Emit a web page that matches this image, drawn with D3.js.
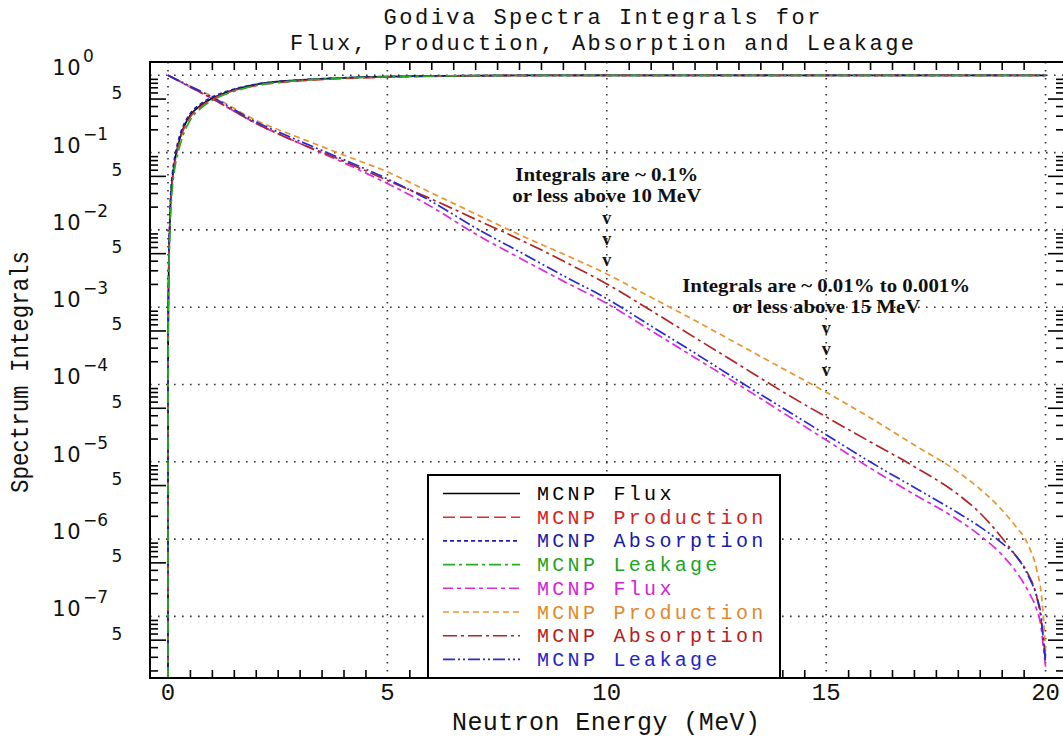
<!DOCTYPE html>
<html><head><meta charset="utf-8">
<script src="https://cdn.jsdelivr.net/npm/d3@7/dist/d3.min.js"></script>
<style>body{margin:0;background:#fff}svg{display:block}</style>
</head><body>
<svg id="chart" width="1063" height="743"></svg>
<script>
// ---------- DATA ----------
const titleLines = ["Godiva Spectra Integrals for", "Flux, Production, Absorption and Leakage"];
const xAxisTitle = "Neutron Energy (MeV)";
const yAxisTitle = "Spectrum Integrals";
const xTickLabels = [0, 5, 10, 15, 20];
const yDecades = [0, -1, -2, -3, -4, -5, -6, -7];

// Integrals from 0 up to E (rising curves)
const upEnergy = [0.000001, 0.00001, 0.0001, 0.001, 0.005, 0.01, 0.02, 0.04, 0.06, 0.1, 0.15, 0.23, 0.34, 0.5, 0.75, 1, 1.5, 2, 3, 4, 5, 6, 7, 8, 10, 12, 15, 20];
const fluxUp        = [1.3e-9, 4e-8, 1.3e-6, 4e-5, 5e-4, 1.4e-3, 4e-3, 0.0105, 0.023, 0.046, 0.075, 0.125, 0.2, 0.3, 0.41, 0.5, 0.65, 0.76, 0.868, 0.926, 0.96, 0.98, 0.991, 0.9956, 0.999, 0.9998, 1, 1];
const productionUp  = [1.2e-9, 3.6e-8, 1.2e-6, 3.7e-5, 4.6e-4, 1.3e-3, 3.7e-3, 0.0098, 0.0215, 0.043, 0.071, 0.118, 0.19, 0.285, 0.395, 0.485, 0.635, 0.737, 0.845, 0.907, 0.944, 0.97, 0.984, 0.991, 0.997, 0.9993, 1, 1];
const absorptionUp  = [1.6e-9, 5e-8, 1.6e-6, 5e-5, 6.2e-4, 1.7e-3, 4.9e-3, 0.013, 0.027, 0.053, 0.085, 0.14, 0.215, 0.315, 0.43, 0.52, 0.66, 0.765, 0.87, 0.93, 0.962, 0.98, 0.99, 0.995, 0.998, 0.9995, 1, 1];
const leakageUp     = [1.0e-9, 3e-8, 9e-7, 2.9e-5, 3.6e-4, 1e-3, 2.9e-3, 0.0075, 0.016, 0.035, 0.06, 0.1, 0.165, 0.26, 0.375, 0.47, 0.62, 0.735, 0.855, 0.92, 0.955, 0.976, 0.988, 0.994, 0.998, 0.9995, 1, 1];

// Integrals from E up to 20 MeV (falling curves)
const downEnergy = [0, 0.5, 1, 2, 3, 4, 5, 6, 7, 8, 9, 10, 11, 12, 13, 14, 15, 16, 17, 18, 18.5, 19, 19.3, 19.6, 19.8, 19.9, 19.95, 20];
const fluxDown       = [1.0, 0.708, 0.501, 0.240, 0.132, 0.0741, 0.0398, 0.0200, 8.91e-3, 4.37e-3, 2.19e-3, 1.12e-3, 5.01e-4, 2.24e-4, 1.00e-4, 4.37e-5, 1.91e-5, 8.32e-6, 3.80e-6, 1.78e-6, 1.12e-6, 6.31e-7, 3.98e-7, 2.14e-7, 1.20e-7, 7.08e-8, 3.98e-8, 2.24e-8];
const productionDown = [1.0, 0.724, 0.537, 0.263, 0.155, 0.0933, 0.0562, 0.0302, 0.0162, 8.71e-3, 4.90e-3, 2.69e-3, 1.35e-3, 6.76e-4, 3.31e-4, 1.62e-4, 7.94e-5, 3.72e-5, 1.66e-5, 7.41e-6, 4.47e-6, 2.40e-6, 1.51e-6, 8.51e-7, 3.98e-7, 2.00e-7, 1.00e-7, 3.55e-8];
const absorptionDown = [1.0, 0.708, 0.501, 0.240, 0.132, 0.0776, 0.0437, 0.0251, 0.0138, 7.59e-3, 3.98e-3, 2.00e-3, 9.12e-4, 4.07e-4, 1.82e-4, 8.13e-5, 3.80e-5, 1.82e-5, 8.71e-6, 3.80e-6, 2.19e-6, 1.05e-6, 6.31e-7, 3.55e-7, 1.78e-7, 8.91e-8, 5.01e-8, 2.82e-8];
const leakageDown    = [1.0, 0.724, 0.525, 0.251, 0.141, 0.0813, 0.0457, 0.0234, 0.0107, 5.25e-3, 2.57e-3, 1.29e-3, 5.75e-4, 2.57e-4, 1.12e-4, 5.01e-5, 2.24e-5, 1.00e-5, 4.68e-6, 2.19e-6, 1.45e-6, 8.91e-7, 6.31e-7, 3.39e-7, 1.78e-7, 1.00e-7, 5.01e-8, 2.51e-8];

const legendLabels = ["MCNP Flux", "MCNP Production", "MCNP Absorption", "MCNP Leakage",
                      "MCNP Flux", "MCNP Production", "MCNP Absorption", "MCNP Leakage"];
const note1 = ["Integrals are ~ 0.1%", "or less above 10 MeV"];
const note2 = ["Integrals are ~ 0.01% to 0.001%", "or less above 15 MeV"];
const note1Energy = 10, note2Energy = 15;

// ---------- LAYOUT / STYLE ----------
const L = 150, R = 1064, T = 62, B = 678;
const svg = d3.select("#chart");
const x = d3.scaleLinear().domain([-0.41, 20.42]).range([L, R]);
const y = d3.scaleLog().domain([Math.pow(10, -7.797), Math.pow(10, 0.172)]).range([B, T]);

const series = [
  {label: legendLabels[0], E: upEnergy,   v: fluxUp,         color: "#000000", text: "#000000", dash: null},
  {label: legendLabels[1], E: upEnergy,   v: productionUp,   color: "#e02a2a", text: "#d42222", dash: "12,5"},
  {label: legendLabels[2], E: upEnergy,   v: absorptionUp,   color: "#1d1db8", text: "#1a1aa8", dash: "4,3"},
  {label: legendLabels[3], E: upEnergy,   v: leakageUp,      color: "#25ad25", text: "#22a322", dash: "12,4,3,4"},
  {label: legendLabels[4], E: downEnergy, v: fluxDown,       color: "#dd2add", text: "#d622d6", dash: "10,4,4,4"},
  {label: legendLabels[5], E: downEnergy, v: productionDown, color: "#e8952c", text: "#e0892a", dash: "6,4"},
  {label: legendLabels[6], E: downEnergy, v: absorptionDown, color: "#b22424", text: "#b81c1c", dash: "14,4,3,4"},
  {label: legendLabels[7], E: downEnergy, v: leakageDown,    color: "#2a2ad2", text: "#2424c8", dash: "12,3,2,3,2,3"}
];

// clip
svg.append("defs").append("clipPath").attr("id", "plotclip")
  .append("rect").attr("x", L).attr("y", T).attr("width", R - L).attr("height", B - T);

// grid
const grid = svg.append("g").attr("stroke", "#333").attr("stroke-width", 1.6).attr("stroke-dasharray", "1.6,6.4");
xTickLabels.forEach(e => grid.append("line").attr("x1", x(e)).attr("x2", x(e)).attr("y1", T).attr("y2", B));
yDecades.forEach(d => grid.append("line").attr("x1", L).attr("x2", R).attr("y1", y(Math.pow(10, d))).attr("y2", y(Math.pow(10, d))));

// curves
const line = d3.line().x(d => x(d[0])).y(d => y(d[1])).curve(d3.curveMonotoneX);
const curveG = svg.append("g").attr("clip-path", "url(#plotclip)").attr("fill", "none");
const drawOrder = [4, 5, 6, 7, 0, 1, 2, 3];
drawOrder.forEach(i => {
  const s = series[i];
  curveG.append("path")
    .attr("d", line(s.E.map((e, k) => [e, s.v[k]])))
    .attr("stroke", s.color).attr("stroke-width", 1.7)
    .attr("stroke-dasharray", s.dash);
});

// ticks via d3 axes (inward)
const xMinor = d3.range(1, 41).map(k => k * 0.5).filter(v => v % 5 !== 0);
const minorY = [], majorY5 = [];
for (let d = -8; d <= 0; d++) {
  for (let k = 2; k <= 9; k++) {
    const v = k * Math.pow(10, d);
    if (v > y.domain()[0] && v < y.domain()[1]) (k === 5 ? majorY5 : minorY).push(v);
  }
}
function styleAxis(g) {
  g.select(".domain").remove();
  g.selectAll(".tick line").attr("stroke", "#000").attr("stroke-width", 1.6);
  g.selectAll(".tick text").remove();
}
svg.append("g").attr("transform", `translate(0,${B})`).call(d3.axisBottom(x).tickValues(xMinor).tickSize(-8)).call(styleAxis);
svg.append("g").attr("transform", `translate(0,${T})`).call(d3.axisTop(x).tickValues(xMinor).tickSize(-8)).call(styleAxis);
svg.append("g").attr("transform", `translate(${L},0)`).call(d3.axisLeft(y).tickValues(minorY).tickSize(-8)).call(styleAxis);
svg.append("g").attr("transform", `translate(${L},0)`).call(d3.axisLeft(y).tickValues(majorY5).tickSize(-16)).call(styleAxis);
svg.append("g").attr("transform", `translate(${R},0)`).call(d3.axisRight(y).tickValues(minorY).tickSize(-8)).call(styleAxis);
svg.append("g").attr("transform", `translate(${R},0)`).call(d3.axisRight(y).tickValues(majorY5).tickSize(-16)).call(styleAxis);

// frame
svg.append("rect").attr("x", L).attr("y", T).attr("width", R - L).attr("height", B - T)
  .attr("fill", "none").attr("stroke", "#000").attr("stroke-width", 2);

// x tick labels
const monoFont = "'Liberation Mono', 'DejaVu Sans Mono', monospace";
xTickLabels.forEach(e => {
  svg.append("text").attr("x", x(e)).attr("y", 700).attr("text-anchor", "middle")
    .attr("font-family", monoFont).attr("font-size", 24).attr("fill", "#111").text(e);
});
// y tick labels
yDecades.forEach(d => {
  const gy = y(Math.pow(10, d));
  svg.append("text").attr("x", 82).attr("y", gy).attr("text-anchor", "end")
    .attr("font-family", "'DejaVu Sans', sans-serif").attr("font-size", 21).attr("letter-spacing", 1.5)
    .attr("fill", "#111").text("10");
  svg.append("text").attr("x", 83).attr("y", gy - 13)
    .attr("font-family", "'DejaVu Sans', sans-serif").attr("font-size", 17)
    .attr("fill", "#111").text(d === 0 ? "0" : "\u2212" + (-d));
});
majorY5.forEach(v => {
  svg.append("text").attr("x", 117).attr("y", y(v)).attr("text-anchor", "middle")
    .attr("font-family", "'DejaVu Sans', sans-serif").attr("font-size", 17)
    .attr("fill", "#111").text("5");
});

// titles
titleLines.forEach((t, i) => {
  svg.append("text").attr("x", 602).attr("y", 24 + i * 26).attr("text-anchor", "middle")
    .attr("font-family", monoFont).attr("font-size", 22).attr("fill", "#111")
    .attr("textLength", t.length * 15.6).attr("lengthAdjust", "spacing").text(t);
});
svg.append("text").attr("x", 606).attr("y", 730).attr("text-anchor", "middle")
  .attr("font-family", monoFont).attr("font-size", 25).attr("fill", "#111")
  .attr("textLength", 308).attr("lengthAdjust", "spacing").text(xAxisTitle);
svg.append("text").attr("transform", "translate(28,372) rotate(-90)").attr("text-anchor", "middle")
  .attr("font-family", monoFont).attr("font-size", 25).attr("fill", "#111")
  .attr("textLength", 242).attr("lengthAdjust", "spacingAndGlyphs").text(yAxisTitle);

// annotations
const serifBold = "'Liberation Serif', 'Times New Roman', serif";
function note(lines, widths, e, y1, vStarts) {
  lines.forEach((t, i) => {
    svg.append("text").attr("x", x(e)).attr("y", y1 + i * 21).attr("text-anchor", "middle")
      .attr("font-family", serifBold).attr("font-weight", "bold").attr("font-size", 19.5)
      .attr("textLength", widths[i]).attr("lengthAdjust", "spacingAndGlyphs")
      .attr("fill", "#111").text(t);
  });
  vStarts.forEach(vy => {
    svg.append("text").attr("x", x(e)).attr("y", vy).attr("text-anchor", "middle")
      .attr("font-family", serifBold).attr("font-weight", "bold").attr("font-size", 18)
      .attr("fill", "#111").text("v");
  });
}
note(note1, [183, 189], note1Energy, 181, [224, 245, 266]);
note(note2, [288, 188], note2Energy, 292, [334, 355, 376]);

// legend
const lg = svg.append("g");
lg.append("rect").attr("x", 428).attr("y", 475).attr("width", 352).attr("height", B - 475)
  .attr("fill", "#fff").attr("stroke", "#000").attr("stroke-width", 2);
series.forEach((s, i) => {
  const ly = 493.5 + i * 23.7;
  lg.append("line").attr("x1", 443).attr("x2", 520).attr("y1", ly).attr("y2", ly)
    .attr("stroke", s.color).attr("stroke-width", 1.6).attr("stroke-dasharray", s.dash);
  lg.append("text").attr("x", 537).attr("y", ly + 6.5)
    .attr("font-family", monoFont).attr("font-size", 20).attr("letter-spacing", 3.3)
    .attr("fill", s.text).text(s.label);
});
</script>
</body></html>
